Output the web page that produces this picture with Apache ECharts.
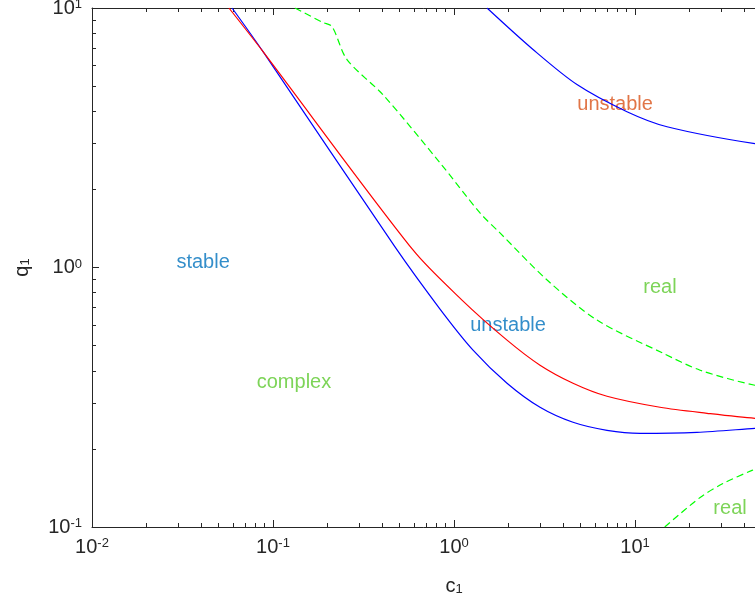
<!DOCTYPE html>
<html>
<head>
<meta charset="utf-8">
<title>q1 vs c1</title>
<script src="https://cdn.jsdelivr.net/npm/echarts@6/dist/echarts.min.js"></script>
<style>
html, body { margin: 0; padding: 0; background: #fff; }
#chart { width: 755px; height: 610px; }
</style>
</head>
<body>
<div id="chart"></div>
<script>
// lower blue boundary
var blueLowC = [0.0594, 0.0881, 0.472, 0.837, 1.274, 1.963, 2.987, 4.545, 7.003, 10.66, 22.0, 46.0, 100];
var blueLowQ = [10, 6.79, 1.200, 0.6915, 0.4803, 0.3581, 0.2893, 0.2532, 0.2358, 0.2296, 0.2317, 0.2400, 0.2488];
// red boundary
var redC = [0.0571, 0.0881, 0.5935, 1.107, 1.963, 2.987, 4.545, 7.003, 13.74, 25.0, 46.0, 100];
var redQ = [10, 6.79, 1.168, 0.749, 0.5249, 0.4203, 0.3581, 0.3190, 0.2893, 0.2743, 0.2624, 0.2554];
// green dashed (complex / real), upper branch
var greenC = [0.1323, 0.1889, 0.2118, 0.2563, 0.4052, 0.837, 1.392, 1.795, 3.27, 6.17, 14.28, 22.9, 46.0, 100];
var greenQ = [10, 8.79, 8.48, 6.33, 4.63, 2.532, 1.623, 1.359, 0.8948, 0.627, 0.4676, 0.4020, 0.3517, 0.3219];
// green dashed, lower right branch
var green2C = [14.6, 22.9, 30.6, 44.3, 100];
var green2Q = [0.1, 0.130, 0.147, 0.1652, 0.2064];
// upper blue boundary
var blueUpC = [1.522, 2.733, 4.78, 9.03, 15.03, 46.0, 100];
var blueUpQ = [10, 6.92, 5.07, 3.985, 3.487, 3.0, 2.84];

// region annotations
var labelText = ['stable', 'unstable', 'complex', 'real', 'real', 'unstable'];
var labelC = [0.0411, 1.988, 0.1306, 13.74, 33.5, 7.76];
var labelQ = [1.041, 0.600, 0.3614, 0.841, 0.1179, 4.24];
var labelColor = ['#0072BD', '#0072BD', '#5CC92E', '#5CC92E', '#5CC92E', '#D95319'];

function zip(a, b) {
  var out = [];
  for (var i = 0; i < a.length; i++) out.push([a[i], b[i]]);
  return out;
}

var axisColor = '#262626';
var font = "'Liberation Sans', Arial, Helvetica, sans-serif";
var rich = {
  b: { fontSize: 20, fontFamily: font, color: axisColor, lineHeight: 20, verticalAlign: 'bottom' },
  sup: { fontSize: 13, fontFamily: font, color: axisColor, lineHeight: 13, verticalAlign: 'top', padding: [0, 0, 9, 0] },
  sub: { fontSize: 13, fontFamily: font, color: axisColor, lineHeight: 13, verticalAlign: 'bottom', padding: [9, 0, 0, 0] }
};
function powLabel(v) {
  var e = Math.round(Math.log10(v));
  return '{b|10}{sup|' + e + '}';
}

var tickStyle = { show: true, inside: true, length: 7, lineStyle: { color: axisColor, width: 1 } };
var minorStyle = { show: true, splitNumber: 9, length: 4, lineStyle: { color: axisColor, width: 1 } };

var myChart = echarts.init(document.getElementById('chart'));
var option = {
  animation: false,
  backgroundColor: '#fff',
  // the plot box runs on to 10^2, past the right edge of the picture
  grid: { left: 92, top: 8, right: -61, bottom: 83, containLabel: false, outerBoundsMode: 'none' },
  xAxis: [{
    type: 'log',
    min: 0.01,
    max: 100,
    logBase: 10,
    name: '{b|c}{sub|1}',
    nameLocation: 'middle',
    nameGap: 49,
    nameTextStyle: { rich: rich },
    axisLine: { show: true, lineStyle: { color: axisColor, width: 1 } },
    axisTick: tickStyle,
    minorTick: minorStyle,
    splitLine: { show: false },
    axisLabel: { formatter: powLabel, rich: rich, margin: 10 }
  }, {
    type: 'log',
    position: 'top',
    min: 0.01,
    max: 100,
    logBase: 10,
    axisLine: { show: true, lineStyle: { color: axisColor, width: 1 } },
    axisTick: tickStyle,
    minorTick: minorStyle,
    splitLine: { show: false },
    axisLabel: { show: false }
  }],
  yAxis: [{
    type: 'log',
    min: 0.1,
    max: 10,
    logBase: 10,
    name: '{b|q}{sub|1}',
    nameLocation: 'middle',
    nameRotate: 90,
    nameGap: 60,
    nameTextStyle: { rich: rich },
    axisLine: { show: true, lineStyle: { color: axisColor, width: 1 } },
    axisTick: tickStyle,
    minorTick: minorStyle,
    splitLine: { show: false },
    axisLabel: { formatter: powLabel, rich: rich, margin: 10 }
  }],
  series: [
    {
      type: 'line', data: zip(blueLowC, blueLowQ), showSymbol: false, smooth: 0.3,
      lineStyle: { color: '#0000FF', width: 1.2 }, clip: true
    },
    {
      type: 'line', data: zip(redC, redQ), showSymbol: false, smooth: 0.3,
      lineStyle: { color: '#FF0000', width: 1.2 }, clip: true
    },
    {
      type: 'line', data: zip(greenC, greenQ), showSymbol: false, smooth: 0.3,
      lineStyle: { color: '#00FF00', width: 1.2, type: [7, 4] }, clip: true
    },
    {
      type: 'line', data: zip(green2C, green2Q), showSymbol: false, smooth: 0.3,
      lineStyle: { color: '#00FF00', width: 1.2, type: [7, 4] }, clip: true
    },
    {
      type: 'line', data: zip(blueUpC, blueUpQ), showSymbol: false, smooth: 0.3,
      lineStyle: { color: '#0000FF', width: 1.2 }, clip: true
    },
    {
      type: 'scatter',
      symbolSize: 0,
      silent: true,
      data: labelText.map(function (t, i) {
        return {
          value: [labelC[i], labelQ[i]],
          name: t,
          label: { color: labelColor[i] }
        };
      }),
      label: {
        show: true,
        position: 'inside',
        formatter: '{b}',
        fontSize: 20,
        fontFamily: font,
        textBorderWidth: 0,
        textBorderColor: 'transparent'
      }
    }
  ]
};
myChart.setOption(option);
</script>
</body>
</html>
